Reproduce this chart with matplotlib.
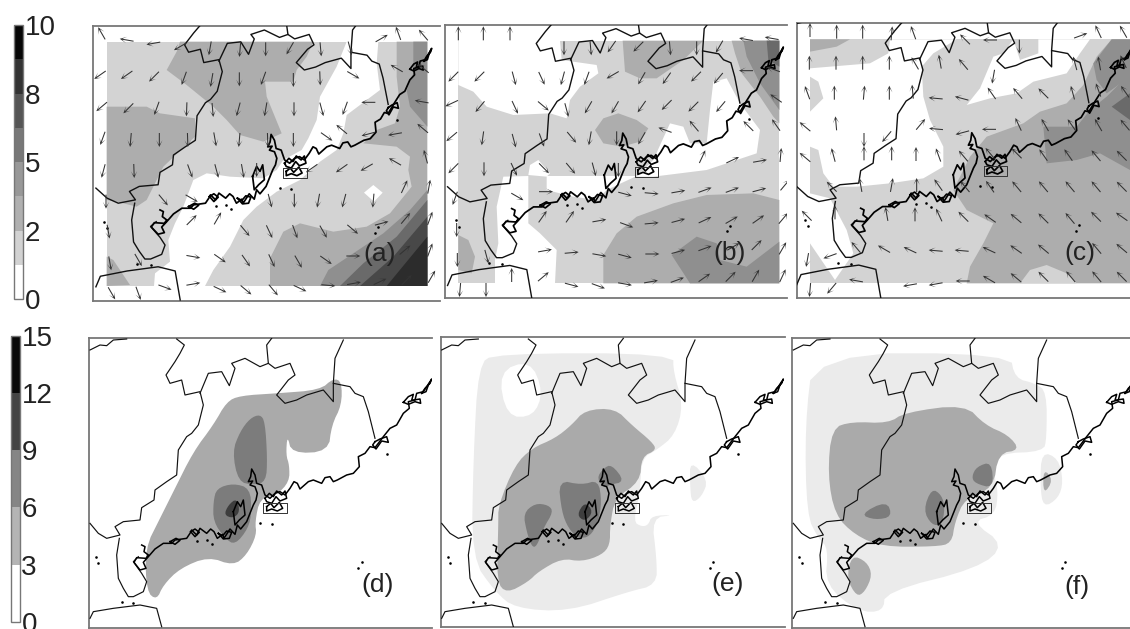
#!/usr/bin/env python
import numpy as np
import matplotlib
matplotlib.use("Agg")
import matplotlib.pyplot as plt
from matplotlib.cm import ScalarMappable
from matplotlib.colors import BoundaryNorm, ListedColormap

plt.rcParams['font.family'] = 'Liberation Sans'

W, H = 1130, 629

# colour bars
bar1_levels = [0, 1.25, 2.5, 3.75, 5, 6.25, 7.5, 8.75, 10]
bar1_colors = ['#ffffff', '#d2d2d2', '#b0b0b0', '#989898', '#787878', '#555555', '#333333', '#060606']
bar1_ticks = [0, 2.5, 5, 7.5, 10]
bar1_labels = ['0', '2', '5', '8', '10']
bar2_levels = [0, 3, 6, 9, 12, 15]
bar2_colors = ['#ffffff', '#b4b4b4', '#858585', '#444444', '#080808']
bar2_ticks = [0, 3, 6, 9, 12, 15]
bar2_labels = ['0', '3', '6', '9', '12', '15']

# map lines, read in panel (d) coordinates
border_a = [(530,42),(553,60),(540,85),(525,110),(498,150),(510,175),(545,165),(555,210),(600,200),(610,240),(595,300),
            (575,325),(560,335),(535,375),(530,450),(500,470),(465,495),(462,525),(425,548),(420,585),(370,590),(345,605),
            (360,630),(320,640),(295,625),(270,595)]
border_b = [(358,640),(350,690),(355,760),(370,790),(385,815),(400,815),(430,800),(440,770),(425,745),(400,710),(415,695)]
border_c = [(600,205),(625,145),(665,140),(688,182),(705,130),(695,115),(735,100),(780,125),(805,115),(800,60),(815,40)]
border_d = [(805,115),(825,130),(870,115),(885,150),(865,165),(830,210),(855,235),(890,225),(920,210),(970,195),(1000,230),
            (1000,175),(1005,100),(1030,45)]
border_e = [(1000,175),(1050,185),(1065,205),(1090,215),(1105,260),(1125,340)]
border_f = [(270,880),(280,860),(340,850),(420,840),(470,850),(485,905)]
border_g = [(270,75),(300,60),(320,62),(340,45),(380,42)]
coast = [(425,660),(435,665),(432,680),(445,690),(438,700),(410,698),(402,712),(420,735),(438,730),(430,712),(445,695),
         (465,672),(490,655),(515,655),(525,645),(560,640),(570,625),(575,615),(590,630),(600,610),(620,625),(632,612),
         (642,620),(652,640),(668,628),(672,640),(690,612),(705,628),(712,600),(722,612),(740,590),(750,565),(760,540),
         (768,525),(772,505),(765,485),(750,480),(758,468),(745,470),(752,455),(755,432),(765,450),(770,475),(785,480),
         (795,510),(810,520),(825,505),(840,500),(855,510),(870,490),(882,470),(892,475),(900,492),(925,470),(940,465),
         (965,475),(975,458),(990,455),(1000,470),(1012,465),(1040,450),(1060,445),(1078,425),(1075,395),(1095,385),
         (1110,365),(1125,368),(1150,335),(1170,310),(1190,300),(1210,265),(1228,250),(1225,230),(1245,225),(1250,205),
         (1270,200),(1290,170)]
islands_a = [(1125,350),(1140,342),(1160,335),(1165,352),(1145,348),(1128,372),(1118,360),(1125,350)]
islands_b = [(1210,232),(1225,215),(1240,208),(1235,226),(1260,222),(1262,235),(1245,230),(1225,238),(1210,232)]
islands_c = [(795,520),(808,505),(820,515),(830,498),(845,510),(855,498),(860,520),(840,528),(828,515),(815,535),(800,530),(795,520)]
islands_d = [(800,545),(812,535),(822,548),(838,532),(848,550),(832,558),(815,552),(800,558),(800,545)]
islands_e = [(655,625),(668,632),(680,618),(695,622),(688,640),(670,642),(655,625)]
islands_f = [(572,620),(585,635),(598,622),(585,612),(572,620)]
islands_g = [(700,560),(712,530),(722,545),(730,525),(735,570),(718,585),(705,600),(700,560)]
islands_h = [(510,650),(525,658),(540,646),(528,640),(510,650)]
islands_i = [(1265,205),(1275,190),(1290,175),(1295,162),(1285,180),(1278,200),(1265,205)]
box = [(790,535),(862,535),(862,565),(790,565),(790,535)]
dots_x = [288,295,1085,1075,1160,635,780,815,365,400,620,590]
dots_y = [695,715,712,730,388,657,595,598,832,835,645,648]

# panel (d) -> top row coordinates
map_x_d = [268, 350, 425, 826, 1080, 1295]
map_x_a = [285, 395, 480, 885, 1130, 1295]
map_y_d = [40, 100, 235, 550, 700, 845, 905]
map_y_a = [25, 60, 180, 489, 640, 775, 870]

# shaded areas, (grey, outline) from lowest to highest, in each panel's own coordinates
G1 = '#d3d3d3'
G2 = '#adadad'
G3 = '#8f8f8f'
G4 = '#6a6a6a'
G5 = '#484848'
G6 = '#2c2c2c'
WH = '#ffffff'
a_areas = [
    (G1, [(320,95),(1282,95),(1282,828),(320,828)]),
    (WH, [(1040,95),(1135,95),(1130,160),(1140,240),(1080,285),(1040,315),(1030,370),(1010,420),(960,455),(900,510),(830,545),
          (770,590),(730,630),(690,710),(640,780),(615,828),(462,828),(465,790),(510,755),(505,690),(525,640),(550,590),
          (580,510),(620,490),(690,500),(790,505),(830,480),(850,450),(905,420),(925,385),(950,330),(960,260),(1010,170)]),
    (WH, [(1120,525),(1148,548),(1122,575),(1092,548)]),
    (G2, [(320,290),(440,290),(480,310),(585,325),(585,380),(490,470),(440,570),(410,590),(350,575),(320,570)]),
    (G2, [(530,125),(540,95),(940,95),(920,140),(890,180),(880,215),(795,215),(800,260),(845,370),(790,395),(720,375),(680,330),
          (640,290),(560,225),(500,180)]),
    (G2, [(810,828),(810,745),(850,665),(900,640),(1000,665),(1100,650),(1170,610),(1235,530),(1225,480),(1230,440),(1190,410),
          (1090,400),(1130,360),(1185,340),(1200,290),(1190,200),(1190,95),(1282,95),(1282,828)]),
    (G2, [(320,740),(340,750),(390,825),(320,828)]),
    (G3, [(960,828),(985,780),(1060,730),(1150,670),(1230,600),(1282,540),(1282,828)]),
    (G3, [(1240,95),(1282,95),(1282,350),(1230,290),(1220,240),(1240,190)]),
    (G4, [(1020,828),(1090,760),(1190,680),(1282,570),(1282,828)]),
    (G5, [(1080,828),(1180,740),(1282,620),(1282,828)]),
    (G6, [(1160,828),(1282,680),(1282,828)]),
]
b_areas = [
    (G1, [(55,92),(1018,92),(1018,820),(55,820)]),
    (WH, [(55,92),(360,92),(365,150),(470,165),(475,190),(420,230),(390,270),(380,325),(330,310),(220,315),(140,290),(100,245),(55,225)]),
    (WH, [(820,215),(860,205),(900,280),(960,360),(950,430),(800,480),(640,500),(590,500),(640,450),(690,340),(730,350),(750,400),(800,400),(810,300)]),
    (WH, [(270,465),(295,450),(330,490),(320,500),(265,495)]),
    (WH, [(320,498),(590,498),(500,540),(470,570),(400,560),(320,540)]),
    (WH, [(190,500),(265,498),(265,640),(300,670),(350,720),(345,820),(165,820),(165,750),(175,700),(170,590)]),
    (G2, [(548,92),(790,92),(730,150),(650,205),(600,205),(555,185)]),
    (G2, [(875,92),(1018,92),(1018,340),(1000,320),(960,260),(905,190),(885,130)]),
    (G2, [(465,360),(490,325),(535,310),(590,330),(625,355),(600,395),(545,410),(490,400)]),
    (G2, [(490,820),(490,735),(530,670),(590,620),(700,580),(800,555),(940,550),(1018,570),(1018,820)]),
    (G2, [(55,675),(85,690),(105,740),(95,790),(55,780)]),
    (G3, [(910,92),(1018,92),(1018,300),(960,220),(920,140)]),
    (G3, [(695,735),(770,680),(830,700),(840,750),(920,770),(1018,695),(1018,820),(750,820)]),
    (G4, [(980,92),(1018,92),(1018,170),(985,150)]),
]
c_areas = [
    (G1, [(60,88),(1020,88),(1020,820),(60,820)]),
    (G2, [(60,88),(180,88),(140,110),(60,125)]),
    (WH, [(60,175),(240,160),(295,130),(300,88),(500,88),(430,130),(395,170),(400,260),(420,330),(460,410),(460,470),(400,505),
          (300,520),(200,530),(130,530),(100,490),(85,420),(60,410),(60,305),(100,265),(85,215),(60,200)]),
    (WH, [(670,88),(640,130),(610,140),(570,235),(530,285),(600,265),(680,250),(730,215),(830,190),(870,130),(900,88),(745,88),
          (745,130),(690,150)]),
    (WH, [(60,550),(120,565),(170,660),(190,730),(135,810),(60,700)]),
    (G2, [(965,88),(1020,88),(1020,820),(530,820),(540,770),(580,700),(610,640),(530,600),(490,540),(540,440),(590,380),(700,340),
          (750,305),(830,280),(880,225),(920,140)]),
    (G1, [(690,820),(720,780),(770,765),(830,790),(860,820)]),
    (G3, [(760,350),(860,350),(900,300),(950,260),(1020,190),(1020,480),(930,430),(860,450),(770,460)]),
    (G3, [(910,160),(965,88),(1020,88),(1020,200),(950,250),(920,210)]),
    (G4, [(1020,250),(965,290),(1020,330)]),
]
L1 = '#ebebeb'
M1 = '#aaaaaa'
D1 = '#7c7c7c'
X1 = '#3e3e3e'
d_areas = [
    (M1, [(1000,160),(1025,170),(1025,240),(995,300),(985,380),(875,385),(862,330),(858,390),(868,420),(868,470),(830,510),(780,520),
          (765,590),(770,630),(740,690),(700,722),(625,695),(540,730),(490,780),(470,825),(440,800),(435,670),(480,580),(520,500),
          (580,380),(640,300),(680,230),(720,212),(830,205),(960,195)]),
    (D1, [(780,268),(795,290),(802,400),(798,470),(760,480),(715,470),(697,380),(720,320),(750,280)]),
    (D1, [(650,490),(700,475),(750,490),(755,560),(745,610),(705,660),(675,640),(640,590),(640,530)]),
    (X1, [(710,520),(720,560),(700,580),(672,570),(685,540)]),
]
e_areas = [
    (L1, [(180,85),(715,85),(715,140),(745,240),(720,330),(665,375),(620,400),(615,500),(595,590),(620,605),(640,600),(650,572),
          (720,570),(650,578),(665,700),(665,780),(580,800),(400,860),(240,850),(180,800),(110,700),(115,400),(130,120)]),
    (WH, [(190,140),(285,105),(325,200),(295,275),(215,275)]),
    (L1, [(765,405),(820,465),(800,515),(770,535),(765,480)]),
    (M1, [(450,255),(540,250),(590,300),(650,350),(665,375),(620,395),(615,470),(540,520),(525,600),(525,660),(500,690),(440,710),
          (380,700),(310,740),(280,770),(215,805),(185,770),(190,600),(190,540),(240,420),(290,370),(360,340),(410,300)]),
    (D1, [(505,430),(530,418),(570,470),(520,480),(510,490),(485,460)]),
    (D1, [(370,465),(440,480),(490,465),(500,530),(490,590),(465,635),(430,640),(400,610),(380,560)]),
    (D1, [(265,565),(300,535),(340,540),(355,560),(325,610),(305,665),(290,665),(275,620)]),
    (X1, [(450,530),(475,560),(450,590),(425,570)]),
]
f_areas = [
    (L1, [(85,85),(675,85),(690,160),(750,175),(785,200),(785,340),(775,380),(640,385),(625,440),(640,500),(630,570),(560,590),
          (660,660),(580,730),(300,800),(295,860),(220,860),(120,780),(130,670),(100,640),(65,570),(60,300)]),
    (L1, [(770,380),(820,400),(835,470),(820,520),(775,548),(765,480)]),
    (M1, [(140,310),(200,290),(310,295),(360,262),(540,238),(600,300),(670,330),(705,375),(640,385),(625,490),(540,520),(510,590),
          (500,655),(450,665),(290,665),(210,630),(150,570),(128,450)]),
    (M1, [(200,690),(245,710),(262,750),(240,800),(215,815),(185,760)]),
    (M1, [(775,430),(805,465),(775,510)]),
    (D1, [(575,425),(620,410),(625,490),(570,475),(560,455)]),
    (D1, [(225,568),(305,527),(322,575),(270,585)]),
    (D1, [(440,490),(470,510),(480,550),(470,600),(440,600),(415,555)]),
]

# wind arrows: x, y, direction in degrees (0 east, 90 north)
a_wind = [(305,70,120),(380,90,170),(460,100,190),(540,110,210),(630,115,260),(720,120,265),(797,118,270),(870,115,240),
          (962,118,275),(1050,115,285),(1145,85,30),(1195,70,110),(1270,75,130),
          (300,195,215),(380,195,215),(462,200,225),(552,205,250),(635,210,260),(718,208,270),(790,205,250),(880,210,270),
          (960,205,272),(1060,195,330),(1190,175,150),(1270,175,140),
          (305,290,220),(385,295,225),(470,295,250),(560,298,268),(638,300,275),(715,298,255),(797,298,260),(882,298,270),
          (965,298,285),(1035,295,250),(1105,277,180),(1265,275,170),
          (308,385,250),(392,390,265),(478,390,270),(563,390,272),(645,388,280),(718,390,265),(803,390,272),(880,390,270),
          (980,380,325),(1025,358,140),(1105,372,195),(1185,372,190),(1268,355,140),
          (310,483,255),(402,483,272),(570,483,290),(650,483,285),(728,483,280),(770,480,270),(935,475,215),(1025,475,215),
          (1100,472,210),(1185,455,150),(1277,440,105),
          (318,575,270),(490,570,310),(575,565,330),(810,572,285),(883,572,270),(955,572,260),(1032,572,255),(1120,572,265),
          (1213,530,65),(1287,530,80),
          (325,665,280),(575,630,45),(653,625,60),(735,662,310),(808,665,295),(885,665,290),(970,665,300),(1058,658,320),
          (1145,640,15),(1217,625,50),(1290,625,70),
          (330,760,280),(415,750,300),(580,740,350),(660,745,325),(738,752,305),(815,752,295),(895,755,300),(978,750,325),
          (1060,738,0),(1215,720,40),(1290,720,70),
          (335,850,300),(415,850,290),(495,832,340),(580,822,10),(660,838,335),(738,840,320),(820,840,310),(900,835,335),
          (985,826,355),(1062,820,10),(1140,815,25),(1220,810,45),(1295,800,60)]
b_wind = [(55,70,90),(130,70,90),(210,70,90),(372,115,270),(452,115,275),(515,110,235),(595,110,225),(690,115,275),(770,115,270),
          (838,110,240),(918,88,170),(995,85,170),
          (40,200,225),(118,200,225),(222,205,285),(305,205,295),(368,205,255),(440,205,250),(518,195,210),(605,205,240),
          (680,205,235),(768,200,225),(835,205,230),(918,182,180),(1000,178,160),
          (35,280,205),(120,290,230),(225,292,295),(310,288,320),(380,300,285),(445,292,240),(525,292,240),(605,290,235),
          (680,285,225),(760,290,225),(842,290,230),(1008,265,145),
          (35,380,220),(128,385,262),(222,392,285),(305,390,290),(395,382,310),(450,385,260),(530,385,270),(605,385,240),
          (675,360,160),(762,348,130),(925,348,135),(1008,345,125),
          (40,475,225),(132,478,270),(222,478,295),(312,475,315),(392,475,310),(462,478,285),(535,480,270),(787,440,65),
          (878,450,25),(960,453,10),(1022,435,85),
          (45,565,250),(232,560,330),(318,545,0),(555,552,345),(635,550,355),(715,545,10),(795,540,20),(877,540,20),
          (958,540,15),(1035,525,50),
          (50,660,270),(308,620,55),(390,620,55),(478,632,10),(560,645,340),(635,640,5),(715,632,15),(795,630,25),(875,630,30),
          (955,628,35),(1030,625,50),
          (52,750,270),(140,740,285),(315,722,10),(395,728,5),(478,735,350),(555,738,345),(637,732,0),(715,725,15),(795,715,20),
          (880,710,30),(950,705,45),(1028,715,60),
          (60,840,265),(138,840,270),(215,795,90),(310,800,40),(395,825,345),(475,828,340),(555,822,350),(633,815,10),(712,810,20),
          (793,803,35),(872,800,45),(947,797,60),(1028,797,65)]
c_wind = [(60,60,90),(140,65,90),(218,65,90),(305,70,85),(370,68,110),(525,88,135),(600,90,180),(688,110,270),(872,77,20),
          (925,65,115),(1000,65,120),
          (58,158,90),(138,158,90),(218,158,90),(298,158,90),(375,160,120),(450,155,100),(520,163,130),(610,200,260),(855,160,105),
          (928,160,100),(1000,155,115),
          (52,248,110),(133,248,90),(222,248,85),(298,248,90),(368,245,95),(437,265,175),(515,265,165),(605,250,125),(683,250,130),
          (760,250,135),(848,248,105),(925,240,110),(1005,245,125),
          (45,350,140),(138,340,95),(222,390,270),(290,380,230),(392,343,50),(438,357,175),(517,368,195),(597,358,180),(685,343,115),
          (765,345,120),(845,345,125),(925,345,120),(1005,345,130),
          (45,442,140),(130,435,105),(222,430,90),(305,430,90),(378,432,90),(445,435,110),(520,438,130),(600,430,130),(680,430,135),
          (760,435,125),(835,435,125),(918,437,130),(995,437,135),
          (125,530,135),(212,525,100),(305,525,80),(380,525,90),(445,525,125),(525,530,130),(600,530,125),(680,530,130),(760,530,130),
          (840,530,130),(918,530,130),(995,530,135),
          (50,617,135),(135,607,90),(290,612,100),(375,613,90),(447,615,115),(520,620,135),(600,625,145),(678,625,140),(760,625,135),
          (840,625,130),(918,620,135),(995,620,145),
          (52,750,260),(120,738,200),(198,712,130),(282,717,150),(360,720,155),(437,722,175),(515,722,175),(597,720,155),(678,718,145),
          (760,717,140),(920,715,130),(995,715,140),
          (60,840,265),(125,835,230),(198,812,170),(360,825,190),(437,822,190),(518,813,180),(597,808,150),(678,803,140),(760,800,135),
          (842,800,130),(920,800,130),(995,800,135)]

panel_labels = ['(a)', '(b)', '(c)', '(d)', '(e)', '(f)']


def pix_axes(fig, x0, y0, x1, y1):
    return fig.add_axes([x0/W, 1-y1/H, (x1-x0)/W, (y1-y0)/H])


def soften(p, n=2):
    # corner cutting, the bottom row contours are smooth
    for _ in range(n):
        q = np.roll(p, -1, axis=0)
        p = np.column_stack([0.75*p+0.25*q, 0.25*p+0.75*q]).reshape(-1, 2)
    return p


def map_panel(fig, box_px, zoom_org, shift, top_row, areas, wind, label, label_xy):
    x0, y0, x1, y1 = box_px
    ax = pix_axes(fig, x0, y0, x1, y1)
    # axis units are 3x reference pixels, counted from the crop corner
    ax.set_xlim((x0-zoom_org[0])*3, (x1-zoom_org[0])*3)
    ax.set_ylim((y1-zoom_org[1])*3, (y0-zoom_org[1])*3)
    ax.set_xticks([])
    ax.set_yticks([])
    ax.spines['right'].set_visible(False)
    for s in ['left', 'top', 'bottom']:
        ax.spines[s].set_color('#777777')
        ax.spines[s].set_linewidth(1.3)

    for col, pts in areas:
        p = np.array(pts, dtype=float)
        if not top_row:
            p = soften(p)
        ax.fill(p[:, 0], p[:, 1], color=col, lw=0, zorder=1)

    def conv(pts):
        p = np.array(pts, dtype=float)
        xs, ys = p[:, 0], p[:, 1]
        if top_row:
            xs = np.interp(xs, map_x_d, map_x_a)
            ys = np.interp(ys, map_y_d, map_y_a)
        return xs+shift[0], ys+shift[1]

    lw = 1.0 if top_row else 0.85
    for line in [border_a, border_b, border_c, border_d, border_e, border_f, border_g]:
        xs, ys = conv(line)
        ax.plot(xs, ys, color='#111111', lw=lw, zorder=3)
    for line in [coast, islands_a, islands_b, islands_c, islands_d, islands_e, islands_f, islands_g, islands_h, islands_i]:
        xs, ys = conv(line)
        ax.plot(xs, ys, color='black', lw=lw+0.25, zorder=3)
    xs, ys = conv(box)
    ax.plot(xs, ys, color='#333333', lw=0.7, zorder=3)
    xs, ys = conv(list(zip(dots_x, dots_y)))
    ax.scatter(xs, ys, s=3.5, color='black', lw=0, zorder=3)

    if wind is not None:
        w = np.array(wind, dtype=float)
        ang = np.radians(w[:, 2])
        ax.quiver(w[:, 0], w[:, 1], 14*np.cos(ang), 14*np.sin(ang), angles='uv', scale_units='dots', scale=1,
                  units='dots', width=1.05, headwidth=6, headlength=6.5, headaxislength=2.5, pivot='mid',
                  color='#333333', zorder=4)
    ax.text(label_xy[0], label_xy[1], label, fontsize=19, color='#222222', ha='center', va='center', zorder=5)
    return ax


def color_bar(fig, box_px, levels, colors, ticks, labels):
    x0, y0, x1, y1 = box_px
    cax = pix_axes(fig, x0, y0, x1, y1)
    norm = BoundaryNorm(levels, len(colors))
    cb = fig.colorbar(ScalarMappable(norm=norm, cmap=ListedColormap(colors)), cax=cax, spacing='proportional')
    cb.set_ticks(ticks)
    cb.set_ticklabels(labels)
    cb.minorticks_off()
    cax.tick_params(axis='y', length=0, pad=1, labelsize=20, labelcolor='#222222')
    cb.outline.set_edgecolor('#777777')
    cb.outline.set_linewidth(1.0)


fig = plt.figure(figsize=(W/100, H/100), dpi=100)

color_bar(fig, (14, 25, 23.3, 299.3), bar1_levels, bar1_colors, bar1_ticks, bar1_labels)
color_bar(fig, (10.7, 335.7, 20, 622), bar2_levels, bar2_colors, bar2_ticks, bar2_labels)

map_panel(fig, (93, 26, 440, 300.7), (0, 10), (0, 0), True, a_areas, a_wind, panel_labels[0], (1140, 733))
map_panel(fig, (445, 25, 786.7, 298), (440, 10), (-265, -4), True, b_areas, b_wind, panel_labels[1], (870, 728))
map_panel(fig, (796.7, 23.3, 1130, 298), (790, 10), (-268, -5), True, c_areas, c_wind, panel_labels[2], (870, 730))
map_panel(fig, (89.3, 337.7, 431.7, 627.7), (0, 325), (0, 0), False, d_areas, None, panel_labels[3], (1133, 780))
map_panel(fig, (441, 336.7, 785, 626.7), (435, 325), (-250, 0), False, e_areas, None, panel_labels[4], (877, 778))
map_panel(fig, (791.7, 337.7, 1130, 627.7), (785, 325), (-245, 0), False, f_areas, None, panel_labels[5], (877, 785))

fig.savefig('out.png', dpi=100)
